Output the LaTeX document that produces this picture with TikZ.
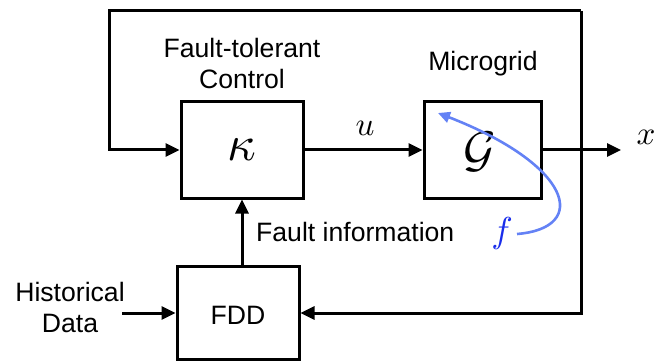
\documentclass[tikz,border=0pt]{standalone}
\usepackage{fontspec}
\setmainfont{Liberation Sans}
\usetikzlibrary{arrows.meta}
\definecolor{curveblue}{RGB}{100,130,245}
\definecolor{fblue}{RGB}{25,45,235}
\begin{document}
\begin{tikzpicture}[x=1pt,y=-1pt,
  box/.style={draw,line width=3pt,inner sep=0pt},
  arr/.style={line width=3pt,-{Triangle[length=14pt,width=13pt]}},
  txt/.style={inner sep=0pt,font=\fontsize{26.6}{31}\selectfont,align=center},
  mathlbl/.style={inner sep=0pt}]
\useasboundingbox (0,0) rectangle (665,361);
\node[box,minimum width=122pt,minimum height=96pt] (k) at (242,150) {};
\node[mathlbl] (kl) at (242,150) {\scalebox{5}{$\kappa$}};
\node[box,minimum width=117pt,minimum height=96pt] (g) at (482.5,150) {};
\node[mathlbl] (gl) at (480,152) {\scalebox{5}{$\mathcal{G}$}};
\node[box,minimum width=122pt,minimum height=93pt] (fdd) at (238,313) {};
\node[txt] (fddl) at (238,315) {FDD};
\node[txt] (ftc) at (242,63.5) {Fault-tolerant\\Control};
\node[txt] (mg) at (483,64) {Microgrid};
\node[txt,anchor=west] (fi) at (256,232) {Fault information};
\node[txt] (hist) at (70,307) {Historical\\Data};
\node[mathlbl] (u) at (365,128) {\scalebox{3.3}{$u$}};
\node[mathlbl] (x) at (646,137) {\scalebox{3.3}{$x$}};
\node[mathlbl,text=fblue] (f) at (502,233) {\scalebox{3.6}{$f$}};
\coordinate (tl) at (109,11);
\coordinate (tr) at (581,11);
\coordinate (xout) at (621,150);
\coordinate (hd) at (122,313);
\coordinate (fs) at (517,234);
\coordinate (ft) at (438,113);
\draw[arr] (tr) -- (tl) |- (k.west);
\draw[arr] (tr) |- (fdd.east);
\draw[arr] (k.east) -- (g.west);
\draw[arr] (g.east) -- (xout);
\draw[arr] (hd) -- (fdd.west);
\draw[arr] (k.south |- fdd.north) -- (k.south);
\draw[line width=2.6pt,curveblue,-{Triangle[length=12pt,width=11pt]}] (fs) .. controls (590,228) and (572,165) .. (ft);
\end{tikzpicture}
\end{document}
